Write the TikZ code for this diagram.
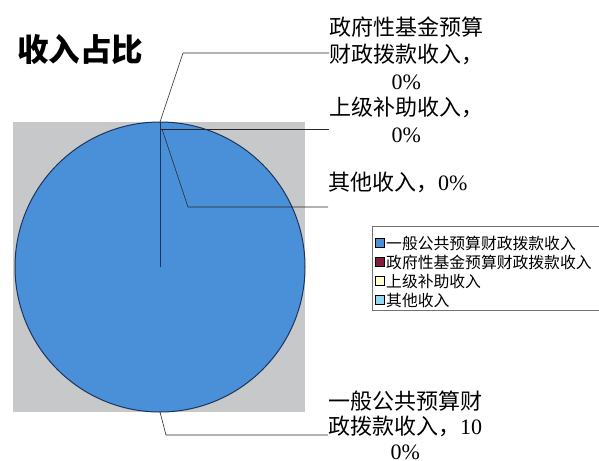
\documentclass[tikz,border=0pt]{standalone}
\usepackage{fontspec}
\setmainfont{Liberation Serif}
\newfontfamily\cjk{Noto Sans CJK SC}
\newcommand\dig[1]{{\rmfamily #1}}
\definecolor{pieblue}{RGB}{74,144,217}
\definecolor{plotgrey}{RGB}{199,200,201}
\definecolor{edgeblue}{RGB}{28,52,92}
\definecolor{govred}{RGB}{130,30,60}
\definecolor{subyellow}{RGB}{255,255,210}
\definecolor{othcyan}{RGB}{150,215,240}
\begin{document}
\begin{tikzpicture}[x=1pt,y=-1pt,
  lbl/.style={anchor=west,align=center,inner sep=0pt,font=\cjk\fontsize{22}{27}\selectfont},
  leader/.style={draw=black!85,line width=0.6pt},
  key/.style={draw=black,line width=0.9pt,minimum size=9pt,inner sep=0pt}]
\useasboundingbox (0,0) rectangle (599,460);

% draw title
\node[anchor=west,inner sep=0pt,font=\cjk\bfseries\fontsize{31.5}{31.5}\selectfont] (title) at (17,50) {收入占比};

% draw plot area and pie
\fill[plotgrey] (13,122) rectangle (305,412);
\coordinate (c) at (160,267);
\draw[fill=pieblue,draw=edgeblue,line width=1pt] (c) circle [radius=145pt];
\coordinate (top) at (160,122);
\draw[edgeblue,line width=1pt] (c) -- (top);

% draw labels
\node[lbl] (govlbl) at (329,53) {政府性基金预算\\财政拨款收入，\\\dig{0\%}};
\node[lbl] (sublbl) at (329,120) {上级补助收入，\\\dig{0\%}};
\node[lbl] (othlbl) at (328,182) {其他收入，\dig{0\%}};
\node[lbl,font=\cjk\fontsize{22}{25}\selectfont] (genlbl) at (328,425) {一般公共预算财\\政拨款收入，\dig{10}\\\dig{0\%}};

% draw leader lines
\coordinate (govbend) at (183,53);
\draw[leader] (top) -- (govbend) -- (govlbl.west);
\coordinate (subpt) at (160,129);
\draw[leader] (subpt) -- (subpt -| govlbl.west);
\coordinate (othpt) at (162,129);
\coordinate (othbend) at (188,207);
\draw[leader] (othpt) -- (othbend) -- (othbend -| othlbl.west);
\coordinate (genpt) at (160,412);
\coordinate (genbend) at (166,435);
\draw[leader] (genpt) -- (genbend) -- (genbend -| genlbl.west);

% draw legend
\draw[fill=white,draw=black!55,line width=0.8pt] (372,226) rectangle (601,310);
\foreach \col/\txt [count=\i] in {pieblue/一般公共预算财政拨款收入,govred/政府性基金预算财政拨款收入,subyellow/上级补助收入,othcyan/其他收入}
{
\node[key,fill=\col] (key\i) at (380,243+19*\i-19) {};
\node[anchor=west,inner sep=0pt,font=\cjk\fontsize{15.8}{15.8}\selectfont] (keytxt\i) at (386,243+19*\i-19) {\txt};
}
\end{tikzpicture}
\end{document}
